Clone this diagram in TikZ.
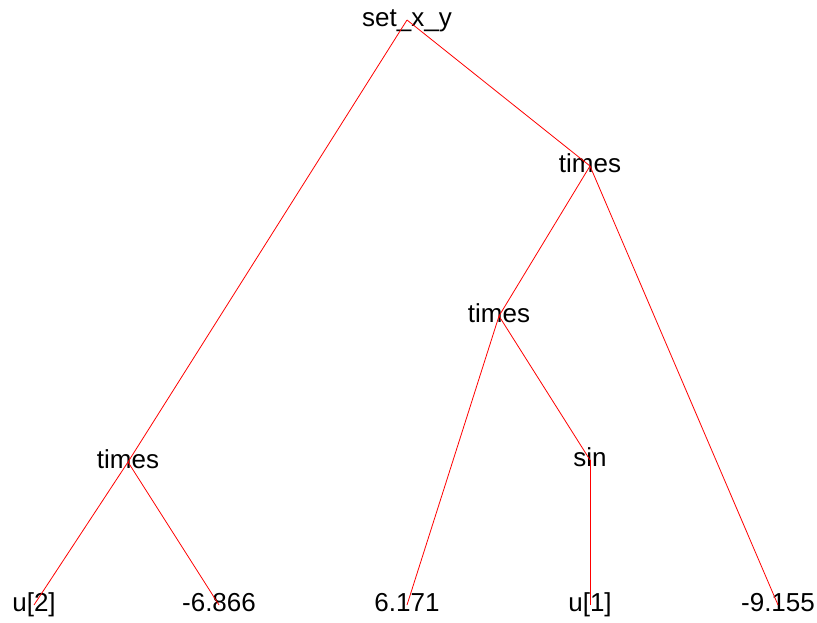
\documentclass[tikz,border=0pt]{standalone}
\usepackage{fontspec}
\setmainfont{Liberation Sans}
\begin{document}
\fontsize{26}{30}\selectfont
\begin{tikzpicture}[x=1pt,y=-1pt,
  lbl/.style={inner sep=0pt,anchor=mid,text=black},
  edge/.style={draw=red,line width=0.8pt}]
\useasboundingbox (0,0) rectangle (817,623);
\node[lbl] (r) at (407,20) {set\_x\_y};
\node[lbl] (t1) at (590,166) {times};
\node[lbl] (t2) at (499,316) {times};
\node[lbl] (t3) at (128,462) {times};
\node[lbl] (s) at (590,460) {sin};
\node[lbl] (u2) at (34,605) {u[2]};
\node[lbl] (c1) at (219,605) {-6.866};
\node[lbl] (c2) at (407,605) {6.171};
\node[lbl] (u1) at (590,605) {u[1]};
\node[lbl] (c3) at (778,605) {-9.155};
\draw[edge] (r.mid) -- (t3.mid);
\draw[edge] (r.mid) -- (t1.mid);
\draw[edge] (t1.mid) -- (t2.mid);
\draw[edge] (t1.mid) -- (c3.mid);
\draw[edge] (t2.mid) -- (c2.mid);
\draw[edge] (t2.mid) -- (s.mid);
\draw[edge] (s.mid) -- (u1.mid);
\draw[edge] (t3.mid) -- (u2.mid);
\draw[edge] (t3.mid) -- (c1.mid);
\end{tikzpicture}
\end{document}
